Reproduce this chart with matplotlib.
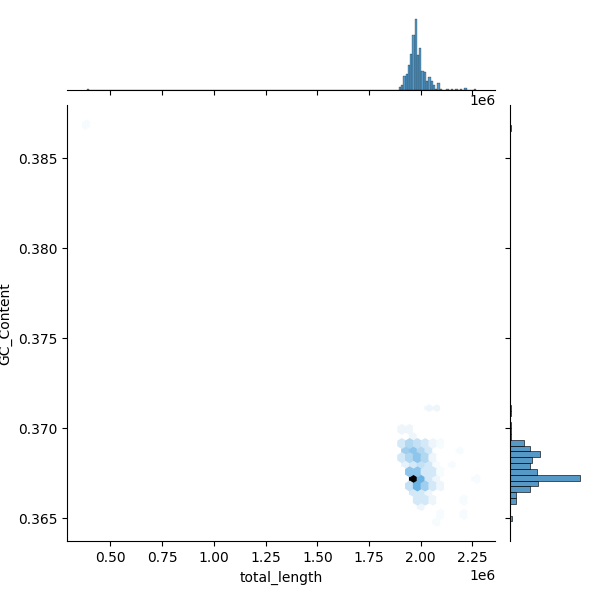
import numpy as np
import matplotlib
matplotlib.use("Agg")
import matplotlib.pyplot as plt
import seaborn as sns
from seaborn.utils import set_hls_values

# hex cells: total_length (in 1e6), GC_Content, number of genomes
hex_x = [0.385,
         2.0384, 2.0758,
         1.9073, 1.9447, 1.9635,
         1.9073, 1.9447, 1.9822, 2.0196, 2.0571, 2.0945,
         1.9260, 1.9635, 2.0009, 2.0384, 2.1881,
         1.9073, 1.9447, 1.9822, 2.0196, 2.0571,
         1.9260, 1.9635, 2.0009, 2.0384, 2.0758, 2.1507,
         1.9447, 1.9822, 2.0196, 2.0571, 2.0945,
         1.9635, 2.0009, 2.0384, 2.0758, 2.266,
         1.9447, 1.9822, 2.0196, 2.0571, 2.0945,
         1.9635, 2.0009, 2.0384,
         1.9822, 2.0196, 2.0571, 2.2068,
         2.0009, 2.0945, 2.2068, 2.0758]
hex_y = [0.38684,
         0.37111, 0.37111,
         0.36993, 0.36993, 0.36954,
         0.36914, 0.36914, 0.36914, 0.36914, 0.36914, 0.36914,
         0.36875, 0.36875, 0.36875, 0.36875, 0.36875,
         0.36836, 0.36836, 0.36836, 0.36836, 0.36836,
         0.36796, 0.36796, 0.36796, 0.36796, 0.36796, 0.36796,
         0.36757, 0.36757, 0.36757, 0.36757, 0.36757,
         0.36718, 0.36718, 0.36718, 0.36718, 0.36718,
         0.36679, 0.36679, 0.36679, 0.36679, 0.36679,
         0.36639, 0.36639, 0.36639,
         0.36600, 0.36600, 0.36600, 0.36600,
         0.36561, 0.36521, 0.36521, 0.36482]
hex_n = [1,
         2, 2,
         2, 2, 2,
         5, 9, 7, 5, 2, 1,
         11, 13, 9, 5, 1,
         5, 9, 13, 9, 2,
         3, 5, 7, 5, 1, 1,
         13, 13, 5, 5, 1,
         50, 17, 5, 2, 1,
         7, 17, 11, 5, 2,
         5, 5, 2,
         5, 5, 2, 1,
         2, 1, 1, 1]

# marginal histograms: bin number -> count
x_nbins = 172
x_bin_index = [0] + list(range(138, 156)) + [156, 159, 161, 163, 165, 167, 171]
x_bin_count = [1, 3, 5, 14, 16, 25, 36, 55, 71, 35, 42, 19, 18, 9, 13, 9, 5, 1, 7,
               1, 1, 1, 1, 1, 2, 1]

y_nbins = 68
y_bin_index = [0, 3, 4, 5, 6, 7, 8, 9, 10, 11, 12, 13, 14, 15, 16, 18, 19, 67]
y_bin_count = [2, 6, 6, 20, 28, 70, 27, 20, 22, 30, 20, 14, 1, 1, 1, 1, 1, 1]

x_pts = np.repeat(np.array(hex_x) * 1e6, hex_n)
y_pts = np.repeat(np.array(hex_y), hex_n)
x_lo, x_hi = x_pts.min(), x_pts.max()
y_lo, y_hi = y_pts.min(), y_pts.max()

rgb = matplotlib.colors.to_rgb("C0")
cmap = sns.blend_palette([set_hls_values(rgb, l=l) for l in np.linspace(1, 0, 12)], as_cmap=True)

g = sns.JointGrid(height=6)
g.ax_joint.hexbin(x_pts, y_pts, gridsize=50, cmap=cmap)

xw = (x_hi - x_lo) / x_nbins
x_centres = x_lo + (np.array(x_bin_index) + 0.5) * xw
sns.histplot(x=x_centres, weights=x_bin_count, bins=x_nbins, binrange=(x_lo, x_hi),
             ax=g.ax_marg_x)

yw = (y_hi - y_lo) / y_nbins
y_centres = y_lo + (np.array(y_bin_index) + 0.5) * yw
sns.histplot(y=y_centres, weights=y_bin_count, bins=y_nbins, binrange=(y_lo, y_hi),
             ax=g.ax_marg_y)

g.set_axis_labels("total_length", "GC_Content")

g.figure.subplots_adjust(left=0.112, right=0.973, bottom=0.098, top=0.975,
                         hspace=0.2, wspace=0.2)
g.figure.savefig("out.png", dpi=100)
